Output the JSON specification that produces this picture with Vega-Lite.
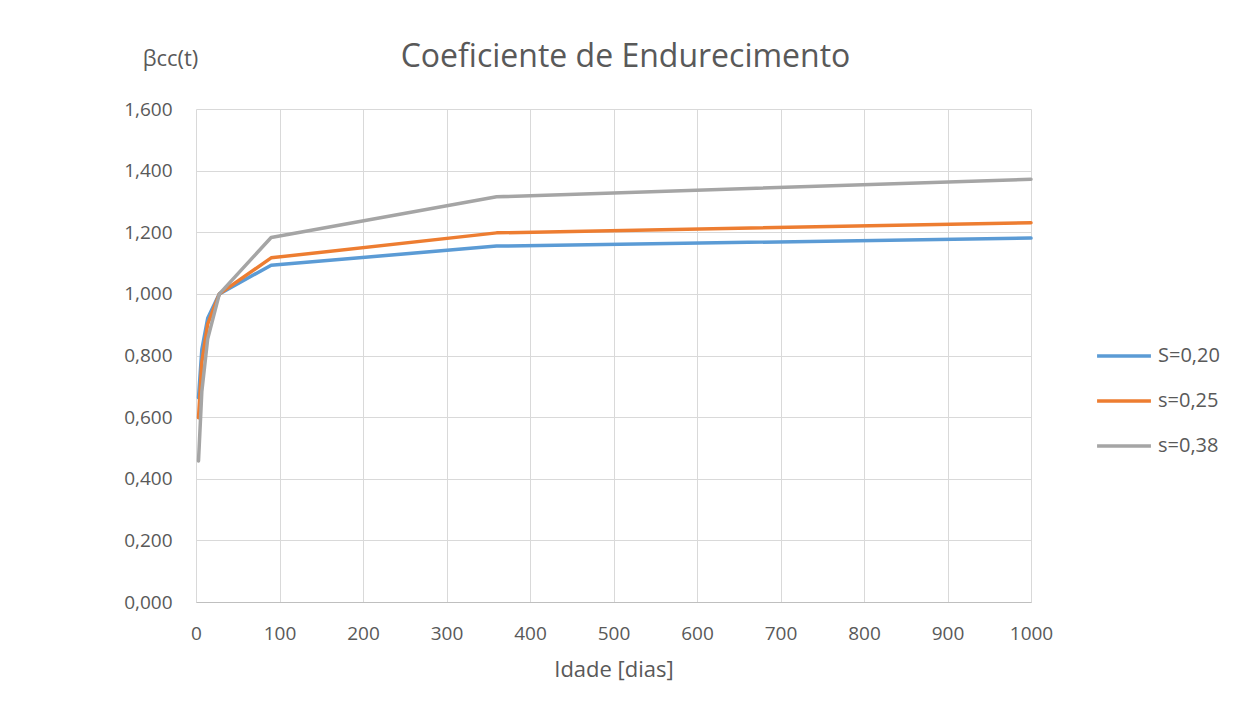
{
  "$schema": "https://vega.github.io/schema/vega-lite/v6.json",
  "width": 835,
  "height": 493,
  "autosize": {"type": "none"},
  "padding": {"left": 196, "top": 109, "right": 209, "bottom": 111},
  "background": "white",
  "title": {
    "text": "Coeficiente de Endurecimento",
    "anchor": "middle",
    "baseline": "alphabetic",
    "offset": 0,
    "dy": 52,
    "dx": 12,
    "font": "Open Sans",
    "fontSize": 32,
    "fontWeight": "normal",
    "color": "#595959"
  },
  "data": {
    "values": [
      {"t": 3, "serie": "S=0,20", "b": 0.663},
      {"t": 7, "serie": "S=0,20", "b": 0.819},
      {"t": 14, "serie": "S=0,20", "b": 0.921},
      {"t": 28, "serie": "S=0,20", "b": 1.0},
      {"t": 90, "serie": "S=0,20", "b": 1.093},
      {"t": 360, "serie": "S=0,20", "b": 1.155},
      {"t": 1000, "serie": "S=0,20", "b": 1.181},
      {"t": 3, "serie": "s=0,25", "b": 0.598},
      {"t": 7, "serie": "s=0,25", "b": 0.779},
      {"t": 14, "serie": "s=0,25", "b": 0.902},
      {"t": 28, "serie": "s=0,25", "b": 1.0},
      {"t": 90, "serie": "s=0,25", "b": 1.117},
      {"t": 360, "serie": "s=0,25", "b": 1.198},
      {"t": 1000, "serie": "s=0,25", "b": 1.231},
      {"t": 3, "serie": "s=0,38", "b": 0.458},
      {"t": 7, "serie": "s=0,38", "b": 0.684},
      {"t": 14, "serie": "s=0,38", "b": 0.854},
      {"t": 28, "serie": "s=0,38", "b": 1.0},
      {"t": 90, "serie": "s=0,38", "b": 1.183},
      {"t": 360, "serie": "s=0,38", "b": 1.315},
      {"t": 1000, "serie": "s=0,38", "b": 1.372}
    ]
  },
  "mark": {"type": "line", "strokeWidth": 3.5, "strokeCap": "round", "strokeJoin": "round"},
  "encoding": {
    "x": {
      "field": "t",
      "type": "quantitative",
      "scale": {"domain": [0, 1000], "nice": false, "zero": true},
      "axis": {
        "title": "Idade [dias]",
        "values": [0, 100, 200, 300, 400, 500, 600, 700, 800, 900, 1000],
        "format": "d",
        "grid": true,
        "gridColor": "#d9d9d9",
        "gridWidth": 1,
        "domainColor": "#bfbfbf",
        "domainWidth": 1,
        "ticks": false,
        "labelPadding": 31,
        "labelBaseline": "middle",
        "labelFont": "Open Sans",
        "labelFontSize": 19,
        "labelColor": "#595959",
        "labelFlush": false,
        "labelOverlap": false,
        "titleFont": "Open Sans",
        "titleFontSize": 22,
        "titleFontWeight": "normal",
        "titleColor": "#595959",
        "titleBaseline": "middle",
        "titleY": 67
      }
    },
    "y": {
      "field": "b",
      "type": "quantitative",
      "scale": {"domain": [0, 1.6], "nice": false},
      "axis": {
        "title": "βcc(t)",
        "values": [0, 0.2, 0.4, 0.6, 0.8, 1.0, 1.2, 1.4, 1.6],
        "labelExpr": "replace(format(datum.value, '.3f'), '.', ',')",
        "grid": true,
        "gridColor": "#d9d9d9",
        "gridWidth": 1,
        "domain": false,
        "ticks": false,
        "labelPadding": 24,
        "labelFont": "Open Sans",
        "labelFontSize": 19,
        "labelColor": "#595959",
        "labelFlush": false,
        "labelOverlap": false,
        "titleFont": "Open Sans",
        "titleFontSize": 22,
        "titleFontWeight": "normal",
        "titleColor": "#595959",
        "titleAngle": 0,
        "titleAlign": "center",
        "titleBaseline": "middle",
        "titleX": -26,
        "titleY": -51
      }
    },
    "color": {
      "field": "serie",
      "type": "nominal",
      "scale": {
        "domain": ["S=0,20", "s=0,25", "s=0,38"],
        "range": ["#5b9bd5", "#ed7d31", "#a5a5a5"]
      },
      "legend": {
        "title": null,
        "orient": "none",
        "legendX": 899,
        "legendY": 218,
        "symbolType": "stroke",
        "symbolSize": 2900,
        "symbolStrokeWidth": 3.5,
        "labelFont": "Open Sans",
        "labelFontSize": 20,
        "labelColor": "#595959",
        "labelOffset": 5,
        "rowPadding": 6
      }
    }
  },
  "config": {"view": {"stroke": null}}
}
